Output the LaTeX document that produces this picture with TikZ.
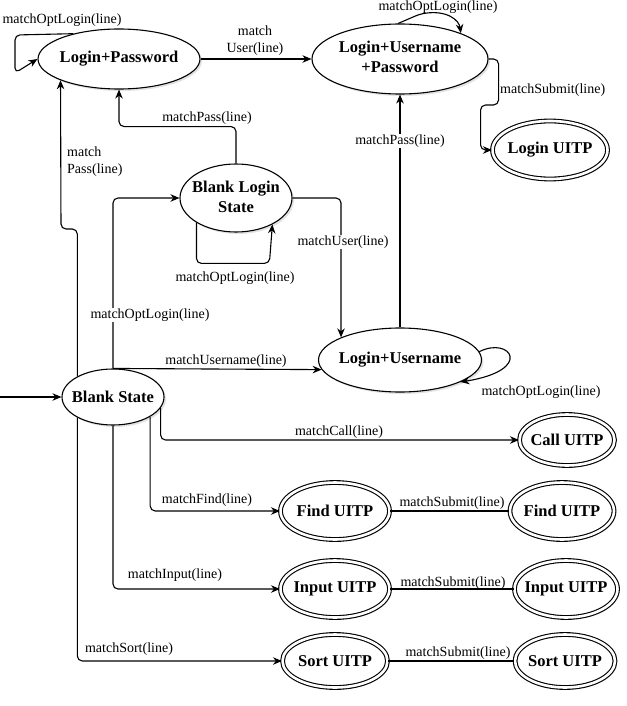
\documentclass[tikz,border=0pt]{standalone}
\usepackage{fontspec}
\setmainfont{Liberation Serif}
\usetikzlibrary{arrows.meta,shapes.geometric,shadows,calc}
\newcommand{\zerow}[1]{\makebox[0pt][c]{#1}}
\begin{document}
\begin{tikzpicture}[x=1pt,y=-1pt,
  st/.style={ellipse,draw,line width=1.1pt,fill=white,inner sep=0pt,
    font=\bfseries\fontsize{16.5}{20}\selectfont,
    drop shadow={opacity=0.22,shadow xshift=2pt,shadow yshift=-2pt}},
  fin/.style={st,double,double distance=2.6pt},
  arr/.style={line width=1.1pt,-{Stealth[length=9pt,width=7.5pt]},rounded corners=5pt},
  ln/.style={line width=1.1pt},
  lbl/.style={font=\fontsize{14}{17}\selectfont,inner sep=1pt},
  lblw/.style={lbl,fill=white}]
\useasboundingbox (0,0) rectangle (626,706);

% states
\node[st,minimum width=162pt,minimum height=60pt] (lp) at (119,59) {\zerow{Login+Password}};
\node[st,minimum width=176pt,minimum height=70pt] (lup) at (400,59)
  {\zerow{\begin{tabular}{@{}c@{}}Login+Username\\+Password\end{tabular}}};
\node[fin,minimum width=115pt,minimum height=58pt] (luitp) at (550,150) {\zerow{Login UITP}};
\node[st,minimum width=112pt,minimum height=68pt] (bls) at (236,198)
  {\zerow{\begin{tabular}{@{}c@{}}Blank Login\\State\end{tabular}}};
\node[st,minimum width=163pt,minimum height=64pt] (lu) at (400,360) {\zerow{Login+Username}};
\node[st,minimum width=102pt,minimum height=56pt] (bs) at (113,397) {\zerow{Blank State}};
\node[fin,minimum width=95pt,minimum height=51pt] (call) at (567,440) {\zerow{Call UITP}};
\node[fin,minimum width=109pt,minimum height=57pt] (find1) at (335,511) {\zerow{Find UITP}};
\node[fin,minimum width=104pt,minimum height=57pt] (find2) at (562,511) {\zerow{Find UITP}};
\node[fin,minimum width=109pt,minimum height=57pt] (in1) at (335,589) {\zerow{Input UITP}};
\node[fin,minimum width=103pt,minimum height=57pt] (in2) at (566,589) {\zerow{Input UITP}};
\node[fin,minimum width=105pt,minimum height=53pt] (sort1) at (335,661) {\zerow{Sort UITP}};
\node[fin,minimum width=100pt,minimum height=53pt] (sort2) at (565,661) {\zerow{Sort UITP}};

% connectors
\coordinate (init) at (0,397);
\draw[arr] (init) -- (bs.west);
\draw[arr] (lp.151) -- (15,35) -- (15,73) -- (lp.west);
\draw[arr] (lp.east) -- (lup.west);
\draw[arr] (bs.150) |- (61,229) -- (lp.200);
\draw[arr] (bls.north) |- ($(lp.south)+(0,37)$) -- (lp.south);
\draw[arr] (bs.north) |- (bls.west);
\draw[arr] (bs.north) -- (lu.187);
\draw[arr] (bls.212) |- ($(bls.324)+(-3,39)$) -- (bls.324);
\draw[arr] (bls.east) -| (lu.159);
\draw[arr] (lu.north) -- (lup.south);
\draw[arr] (lup.east) -- ++(10,0) -- ++(0,46) -- ++(-18,0) |- (luitp.west);
\draw[arr] (lup.93) -- (420,14) .. controls (447,10) and (459,20) .. (lup.23);
\draw[arr] (lu.6) .. controls (510,336) and (535,370) .. (lu.340);
\draw[arr] (bs.347) |- (call.west);
\draw[arr] (bs.332) |- (find1.west);
\draw[arr] (bs.south) |- (in1.west);
\draw[arr] (bs.210) |- (sort1.west);
\draw[ln] (find1.east) -- (find2.west);
\draw[ln] (in1.east) -- (in2.west);
\draw[ln] (sort1.east) -- (sort2.west);

% labels
\node[lbl] (la) at (62,20) {matchOptLogin(line)};
\node[lbl,align=center] (lb) at (255,41) {match\\User(line)};
\node[lbl,align=left,anchor=west] (lc) at (66,162) {match\\Pass(line)};
\node[lbl] (ld) at (207,118) {matchPass(line)};
\node[lblw] (le) at (150,315) {matchOptLogin(line)};
\node[lbl] (lf) at (235,278) {matchOptLogin(line)};
\node[lblw] (lg) at (343,242) {matchUser(line)};
\node[lblw] (lh) at (400,141) {matchPass(line)};
\node[lbl,anchor=west] (li) at (499,90) {matchSubmit(line)};
\node[lbl] (lj) at (438,7) {matchOptLogin(line)};
\node[lbl] (lk) at (226,361) {matchUsername(line)};
\node[lbl] (ll) at (339,432) {matchCall(line)};
\node[lbl] (lm) at (207,500) {matchFind(line)};
\node[lbl] (ln) at (175,575) {matchInput(line)};
\node[lbl] (lo) at (129,649) {matchSort(line)};
\node[lbl] (lp2) at (452,503) {matchSubmit(line)};
\node[lbl] (lq) at (453,583) {matchSubmit(line)};
\node[lbl] (lr) at (458,653) {matchSubmit(line)};
\node[lbl] (ls) at (541,392) {matchOptLogin(line)};
\end{tikzpicture}
\end{document}
